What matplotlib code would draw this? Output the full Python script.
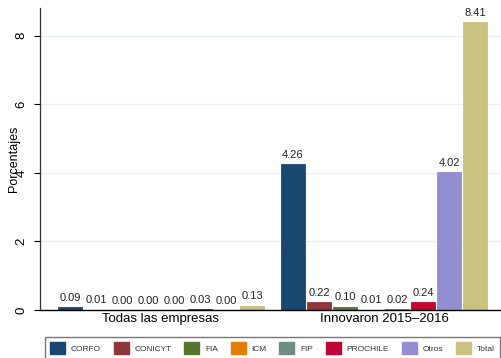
import matplotlib.pyplot as plt
import matplotlib.patches as patches
import numpy as np

# ------------------ Data ------------------ #
groups = ["Todas las empresas", "Innovaron 2015\u20132016"]
programs = ["CORFO", "CONICYT", "FIA", "ICM", "FIP", "PROCHILE", "Otros", "Total"]
todas_vals = [0.09, 0.01, 0.00, 0.00, 0.00, 0.03, 0.00, 0.13]
innov_vals = [4.26, 0.22, 0.10, 0.01, 0.02, 0.24, 4.02, 8.41]
colors = ["#1a476f", "#90353b", "#55752f", "#e37e00",
          "#6e8e84", "#c10534", "#938dd2", "#cac27e"]

plt.rcParams['font.family'] = ['Liberation Sans', 'DejaVu Sans']

# ------------------ Figure / axes ------------------ #
fig = plt.figure(figsize=(5.01, 3.58), dpi=100)
ax = fig.add_axes([40 / 501, 48 / 358, 461 / 501, (310 - 8.3) / 358])

bar_w = 24 / 26
group_start = [30 / 26, 253 / 26]
series = [todas_vals, innov_vals]

for g, vals in enumerate(series):
    xs = group_start[g] + np.arange(len(programs))
    for i, (x, v) in enumerate(zip(xs, vals)):
        ax.bar(x, v, width=bar_w, color=colors[i], edgecolor=colors[i],
               linewidth=0.6, zorder=2)
        ax.annotate(f"{v:.2f}", (x, v), xytext=(0, 3), textcoords="offset points",
                    ha="center", va="bottom", fontsize=8, color="#222222")

ax.set_xlim(0, 461 / 26)
ax.set_ylim(0, 8.8)

# x axis: group labels only
ax.set_xticks([group_start[0] + 3.5, group_start[1] + 3.5])
ax.set_xticklabels(groups, fontsize=9.5)
ax.tick_params(axis="x", length=0, pad=2)

# y axis
ax.set_yticks([0, 2, 4, 6, 8])
ax.set_yticklabels(["0", "2", "4", "6", "8"], rotation=90, va="center", fontsize=9.5)
ax.tick_params(axis="y", length=4, width=0.8, pad=5)
ax.set_ylabel("Porcentajes", fontsize=9)
ax.yaxis.set_label_coords(-0.043, 0.5)

ax.grid(axis="y", color="#eaf2f3", linewidth=1, zorder=0)
ax.set_axisbelow(True)
for s in ["top", "right"]:
    ax.spines[s].set_visible(False)
ax.spines["left"].set_linewidth(0.9)
ax.spines["left"].set_color("#333333")
ax.spines["bottom"].set_linewidth(1.0)
ax.spines["bottom"].set_zorder(3)

# ------------------ Legend ------------------ #
handles = [patches.Patch(facecolor=c, edgecolor=c) for c in colors]
leg = fig.legend(handles, programs, ncol=8, loc="upper left",
                 bbox_to_anchor=(45 / 501, (358 - 337) / 358),
                 fontsize=6, frameon=True, fancybox=False,
                 handlelength=1.8, handleheight=1.8, handletextpad=0.72,
                 columnspacing=1.5, borderpad=0.6, borderaxespad=0)
leg.get_frame().set_edgecolor("#555555")
leg.get_frame().set_linewidth(1.0)
for t in leg.get_texts():
    t.set_color("#333333")

fig.savefig("out.png", dpi=100)
